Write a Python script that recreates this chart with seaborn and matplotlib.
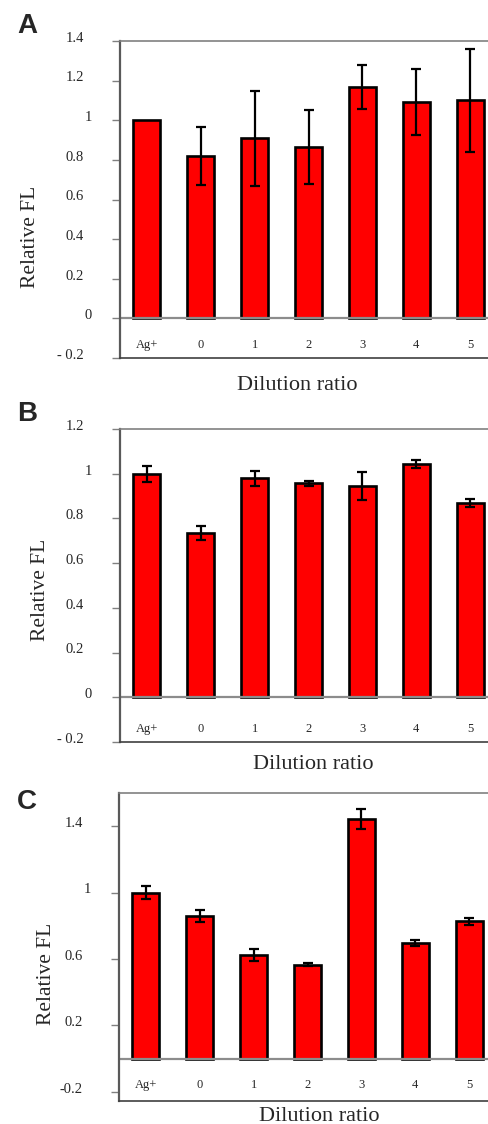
import numpy as np
import matplotlib
matplotlib.use("Agg")
import matplotlib.pyplot as plt
import matplotlib.transforms as mtransforms
import seaborn as sns

categories = ["Ag+", "0", "1", "2", "3", "4", "5"]

# panel A (Ag+ has no error bar)
vals_a = [1.00, 0.82, 0.91, 0.865, 1.167, 1.093, 1.10]
err_a = [0.0, 0.145, 0.24, 0.187, 0.112, 0.165, 0.258]
# panel B
vals_b = [1.00, 0.733, 0.979, 0.957, 0.946, 1.043, 0.869]
err_b = [0.035, 0.031, 0.035, 0.010, 0.063, 0.018, 0.020]
# panel C
vals_c = [1.00, 0.858, 0.624, 0.566, 1.442, 0.698, 0.828]
err_c = [0.040, 0.035, 0.034, 0.010, 0.061, 0.019, 0.020]

yticks_a = [-0.2, 0, 0.2, 0.4, 0.6, 0.8, 1, 1.2, 1.4]
ylabels_a = ["- 0.2", "0", "0.2", "0.4", "0.6", "0.8", "1", "1.2", "1.4"]
yticks_b = [-0.2, 0, 0.2, 0.4, 0.6, 0.8, 1, 1.2]
ylabels_b = ["- 0.2", "0", "0.2", "0.4", "0.6", "0.8", "1", "1.2"]
yticks_c = [-0.2, 0.2, 0.6, 1, 1.4]
ylabels_c = ["-0.2", "0.2", "0.6", "1", "1.4"]

sns.set_style("white")
plt.rcParams['font.family'] = ['Liberation Serif', 'DejaVu Serif']

W, H = 489, 1124
fig = plt.figure(figsize=(W / 100, H / 100), dpi=100)


def panel(rect, vals, errs, ylim, yticks, ylabels, letter, letter_y,
          ylab_xy, xlab_x, xlab_pad, xtick_pad):
    left, top, bottom = rect
    ax = fig.add_axes([left / W, 1 - bottom / H, 377 / W, (bottom - top) / H])
    sns.barplot(x=categories, y=vals, color="#ff0000", saturation=1,
                edgecolor="black", linewidth=1.9, width=0.5, ax=ax)
    xs = np.array([p.get_x() + p.get_width() / 2 for p in ax.patches])
    v = np.array(vals)
    e = np.array(errs)
    keep = e > 0
    ax.errorbar(xs[keep], v[keep], yerr=e[keep], fmt="none", ecolor="black",
                elinewidth=1.6, capsize=3.8, capthick=1.6, zorder=5)
    ax.axhline(0, color="#8c8c8c", lw=1.6, zorder=1)
    ax.set_ylim(*ylim)
    ax.set_xlim(-0.5, len(categories) - 0.5)
    ax.set_yticks(yticks)
    ax.set_yticklabels(ylabels)
    ax.tick_params(axis="y", left=True, length=6, width=1, color="#808080",
                   pad=20, labelsize=10.5)
    ax.tick_params(axis="x", bottom=False, length=0, pad=xtick_pad, labelsize=9)
    # labels sit a little above their ticks; integers sit further right
    for t, s in zip(ax.get_yticklabels(), ylabels):
        dx = 6 / 72 if s in ("0", "1") else 0
        off = mtransforms.ScaledTranslation(dx, 3 / 72, fig.dpi_scale_trans)
        t.set_transform(t.get_transform() + off)
    for side, c, lw in (("left", "#595959", 1.6), ("top", "#808080", 1.2),
                        ("bottom", "#404040", 1.2), ("right", "#808080", 1.2)):
        ax.spines[side].set_visible(True)
        ax.spines[side].set_color(c)
        ax.spines[side].set_linewidth(lw)
    ax.set_xlabel("Dilution ratio", fontsize=16, labelpad=xlab_pad)
    ax.xaxis.label.set_x(xlab_x)
    ax.set_ylabel("Relative FL", fontsize=15.5, va="center")
    ax.yaxis.set_label_coords(*ylab_xy)
    fig.text(27 / W, 1 - letter_y / H, letter, fontsize=20, fontweight="bold",
             family="Liberation Sans", ha="center", va="center")
    return ax


panel((120, 41, 358), vals_a, err_a, (-0.2, 1.4), yticks_a, ylabels_a,
      "A", 26, (-0.238, 0.382), 0.47, 13, -14)
panel((120, 429, 742), vals_b, err_b, (-0.2, 1.2), yticks_b, ylabels_b,
      "B", 414, (-0.210, 0.486), 0.512, 9.5, -14)
panel((119, 793, 1101), vals_c, err_c, (-0.255, 1.6), yticks_c, ylabels_c,
      "C", 802, (-0.192, 0.412), 0.53, 4, -15.5)

fig.savefig("out.png", dpi=100)
